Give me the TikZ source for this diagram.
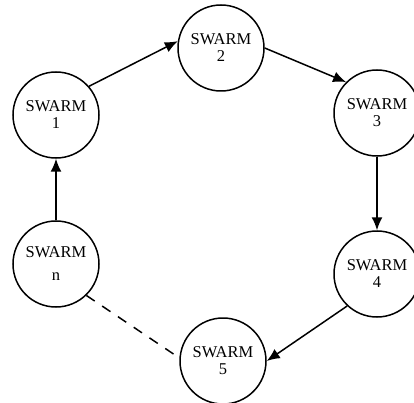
\documentclass[tikz,border=0pt]{standalone}
\usepackage{fontspec}
\setmainfont{Liberation Serif}
\usetikzlibrary{arrows.meta}
\begin{document}
\begin{tikzpicture}[x=1pt,y=-1pt,
  swarm/.style={circle,draw,line width=1.5pt,minimum size=86pt,inner sep=0pt,align=center,
    font=\fontsize{16.5}{17}\selectfont},
  link/.style={line width=1.5pt,-{Latex[length=13pt,width=11pt]}},
  dlink/.style={line width=1.5pt,dash pattern=on 10pt off 9pt}]
\useasboundingbox (0,0) rectangle (414,403);
\node[swarm] (s1) at (56,115) {SWARM\\1};
\node[swarm] (s2) at (221,48) {SWARM\\2};
\node[swarm] (s3) at (377,113) {SWARM\\3};
\node[swarm] (s4) at (377,274) {SWARM\\4};
\node[swarm] (s5) at (223,361) {SWARM\\5};
\node[swarm,font=\fontsize{16.5}{23}\selectfont] (sn) at (56,264) {SWARM\\n};
\draw[link] (s1.41) -- (s2.171);
\draw[link] (s2.0) -- (s3.135);
\draw[link] (s3.south) -- (s4.north);
\draw[link] (s4.227) -- (s5.0);
\draw[link] (sn.north) -- (s1.south);
\draw[dlink] (sn.-46) -- (s5.176);
\end{tikzpicture}
\end{document}
